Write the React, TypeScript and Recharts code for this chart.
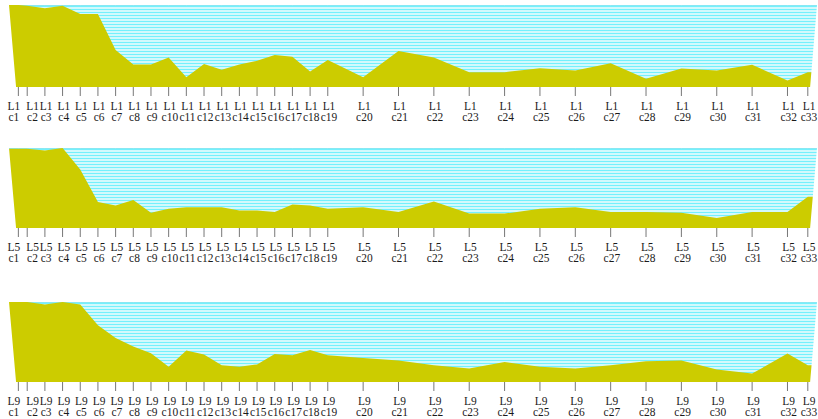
import { AreaChart, Area, XAxis, YAxis } from "recharts";

// tick positions along the axis (c1 .. c33)
const POSITIONS = [
  0, 0.5, 1.5, 2.5, 3.5, 4.5, 5.5, 6.5, 7.5, 8.5, 9.5, 10.5, 11.5, 12.5, 13.5,
  14.5, 15.5, 16.5, 17.5, 19.5, 21.5, 23.5, 25.5, 27.5, 29.5, 31.5, 33.5, 35.5,
  37.5, 39.5, 41.5, 43.5, 44.65,
];
const CODES = POSITIONS.map((_, i) => `c${i + 1}`);

const L1_VALUES = [
  100, 99, 96, 99, 89, 89, 45, 27.5, 27.5, 36, 12, 28, 21, 27.5, 32, 39, 37, 19,
  33, 12, 44, 36, 18, 18, 23, 20, 29, 10, 22.5, 20, 27, 8, 18,
];
const L5_VALUES = [
  99, 99, 97, 100, 73, 32.5, 28, 35, 19, 24, 26, 26, 26, 22, 22, 20, 29.5, 28,
  24, 26, 20, 33, 18, 18, 24, 26, 20, 20, 19, 12.5, 20, 20, 39,
];
const L9_VALUES = [
  100, 100, 97, 100, 97, 71, 55, 44.5, 36, 19, 39.5, 34.5, 21, 19, 22, 35, 33.5,
  40, 33.5, 30, 27, 21, 17, 25, 19, 17, 21, 26, 27, 15.5, 10.5, 35.5, 21,
];

// slanted frame: top edge wider than bottom edge
const X_MIN = -0.53;
const X_MAX = 45.17;
const BOTTOM_LEFT = -0.13;
const BOTTOM_RIGHT = 44.78;

const YELLOW = "#cccc00";

const buildRows = (values: number[]) => {
  const first = values[0];
  const last = values[values.length - 1];
  return [
    { x: X_MIN, value: first, full: 100, edge: [0, 100] },
    { x: BOTTOM_LEFT, value: first, full: 100, edge: [0, 0] },
    ...POSITIONS.map((x, i) => ({ x, value: values[i], full: 100, edge: null })),
    { x: BOTTOM_RIGHT, value: last, full: 100, edge: [0, 0] },
    { x: X_MAX, value: last, full: 100, edge: [0, 100] },
  ];
};

// first two labels are pushed apart, they sit too close otherwise
const LABEL_NUDGE: Record<number, number> = { 0: -4.5, 1: 5.3 };

const makeTick = (prefix: string) => (props: any) => {
  const { x, y, payload } = props;
  const idx = POSITIONS.indexOf(payload.value);
  const dx = idx in LABEL_NUDGE ? LABEL_NUDGE[idx] : 1.2;
  return (
    <g transform={`translate(${x + dx},${y}) scale(0.88,1)`}>
      <text
        textAnchor="middle"
        fontFamily="'Liberation Serif', serif"
        fontSize={13}
        fill="#1a1a1a"
      >
        <tspan x={0} y={12}>{prefix}</tspan>
        <tspan x={0} y={23.5}>{CODES[idx]}</tspan>
      </text>
    </g>
  );
};

interface PanelProps {
  id: string;
  prefix: string;
  values: number[];
  top: number;
  plotHeight: number;
}

const Panel = ({ id, prefix, values, top, plotHeight }: PanelProps) => {
  const rows = buildRows(values);
  return (
    <div style={{ position: "absolute", left: 0, top }}>
      <AreaChart
        width={818}
        height={5 + plotHeight + 43}
        data={rows}
        margin={{ top: 5, right: 1, bottom: 0, left: 9 }}
      >
        <defs>
          <pattern id={id} width="6" height="3" patternUnits="userSpaceOnUse">
            <rect width="6" height="3" fill="#d2f9fc" />
            <rect width="6" height="1" fill="#74f0fc" />
          </pattern>
        </defs>
        <XAxis
          type="number"
          dataKey="x"
          domain={[X_MIN, X_MAX]}
          allowDataOverflow
          ticks={POSITIONS}
          interval={0}
          tick={makeTick(prefix)}
          tickSize={9}
          tickLine={{ stroke: "#777" }}
          axisLine={false}
          height={43}
        />
        <YAxis hide domain={[0, 100]} allowDataOverflow />
        <Area
          type="linear"
          dataKey="full"
          fill={`url(#${id})`}
          fillOpacity={1}
          stroke="#3fd8ea"
          strokeWidth={1}
          isAnimationActive={false}
          dot={false}
          activeDot={false}
        />
        <Area
          type="linear"
          dataKey="value"
          fill={YELLOW}
          fillOpacity={1}
          stroke="none"
          isAnimationActive={false}
          dot={false}
          activeDot={false}
        />
        <Area
          type="linear"
          dataKey="edge"
          fill="#ffffff"
          fillOpacity={1}
          stroke="none"
          isAnimationActive={false}
          dot={false}
          activeDot={false}
        />
      </AreaChart>
    </div>
  );
};

const App = () => (
  <div style={{ position: "absolute", left: 0, top: 0, width: 818, height: 419, background: "#fff" }}>
    <Panel id="hatchL1" prefix="L1" values={L1_VALUES} top={0} plotHeight={82} />
    <Panel id="hatchL5" prefix="L5" values={L5_VALUES} top={143} plotHeight={80} />
    <Panel id="hatchL9" prefix="L9" values={L9_VALUES} top={297} plotHeight={80} />
  </div>
);

export default App;
